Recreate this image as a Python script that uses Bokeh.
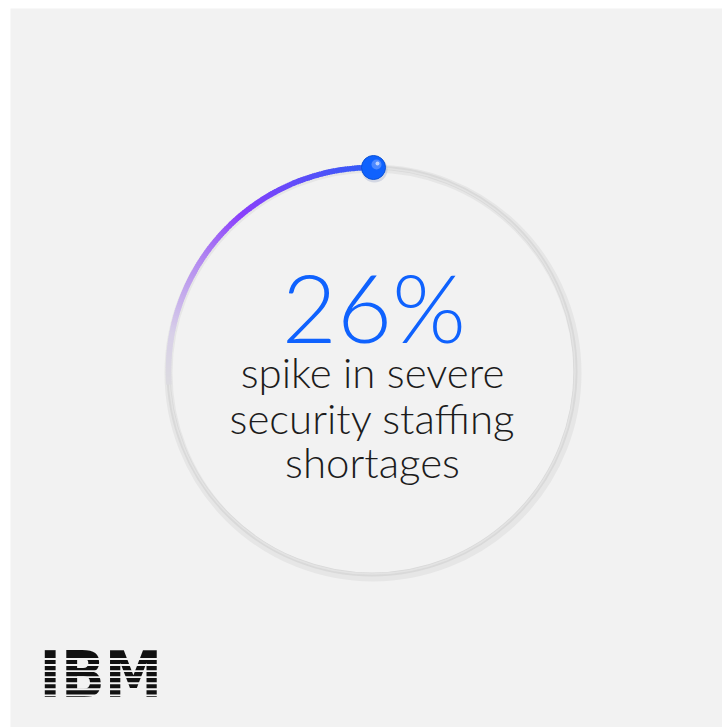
import numpy as np
from bokeh.plotting import figure
from bokeh.models import Range1d
from bokeh.core.properties import value
from bokeh.embed import file_html
from bokeh.resources import INLINE

# ---- data ----
percent = [26]
headline = ["26%"]
caption_lines = ["spike in severe", "security staffing", "shortages"]
logo_text = ["IBM"]

# ---- layout / style ----
W, H = 722, 727
ML, MT = 10, 8
FW, FH = W - ML, H - MT
BG = "#f2f2f2"
BASE_SHIFT = 0.4  # em, empirical baseline correction for svg text


def X(fx):
    return fx - ML


def Y(fy):
    return H - fy


cx, cy, R = X(371.5), Y(370.5), 203.5

p = figure(width=W, height=H, output_backend="svg", toolbar_location=None,
           x_range=Range1d(0, FW), y_range=Range1d(0, FH),
           x_axis_location=None, y_axis_location=None,
           min_border_left=ML, min_border_top=MT, min_border_right=0, min_border_bottom=0)
p.background_fill_color = BG
p.border_fill_color = "white"
p.outline_line_color = None
p.grid.visible = False

# ring (with soft shadow)
p.circle(x=[cx + 1], y=[cy - 2], radius=R + 1, fill_color=None, line_color="#e6e6e6", line_width=8)
p.circle(x=[cx], y=[cy], radius=R, fill_color=None, line_color="#d9d9d9", line_width=4)
p.circle(x=[cx], y=[cy], radius=R - 0.5, fill_color=None, line_color="#e3e3e3", line_width=1.5)

# gradient arc for the percentage
def hex2rgb(h):
    h = h.lstrip("#")
    return np.array([int(h[i:i + 2], 16) for i in (0, 2, 4)], dtype=float)

stops = [(0.0, "#2f5df7"), (0.2, "#5a4ef9"), (0.43, "#8a3ffc"),
         (0.62, "#b48cf0"), (0.85, "#d8d0e8"), (1.0, "#dcdbe0")]

def grad(t):
    for (t0, c0), (t1, c1) in zip(stops[:-1], stops[1:]):
        if t0 <= t <= t1:
            f = (t - t0) / (t1 - t0)
            c = hex2rgb(c0) * (1 - f) + hex2rgb(c1) * f
            return "#%02x%02x%02x" % tuple(int(round(v)) for v in c)
    return stops[-1][1]

sweep = 2 * np.pi * percent[0] / 100.0
n = 140
edges = np.linspace(0, 1, n + 1)
starts = np.pi / 2 + edges[:-1] * sweep
ends = np.pi / 2 + edges[1:] * sweep + 0.004
cols = [grad((a + b) / 2) for a, b in zip(edges[:-1], edges[1:])]
p.arc(x=[cx] * n, y=[cy] * n, radius=R, start_angle=starts, end_angle=ends,
      direction="anticlock", line_color=cols, line_width=5.5)

# knob at the arc start
kx, ky = cx + 1.5, cy + R
p.circle(x=[kx + 1], y=[ky - 2], radius=13, fill_color="#9aa6c8", fill_alpha=0.35, line_color=None)
p.circle(x=[kx], y=[ky], radius=12, fill_color="#0f62fe", line_color="#0b52d6", line_width=1)
p.circle(x=[kx + 3], y=[ky + 3], radius=5, fill_color="#5b94ff", fill_alpha=0.8, line_color=None)
p.circle(x=[kx + 4], y=[ky + 4], radius=2, fill_color="#c9dcff", fill_alpha=0.9, line_color=None)

# headline
hs = 95
p.text(x=[X(373.5)], y=[Y(343) + BASE_SHIFT * hs], text=headline,
       text_font=value("Lato Light, Lato"), text_font_size=f"{hs}px", text_color="#0f62fe",
       text_align="center", text_baseline="alphabetic")

# caption
cs = 42
p.text(x=[X(372)] * 3, y=[Y(b) + BASE_SHIFT * cs for b in (388, 434, 478)], text=caption_lines,
       text_font=value("Lato Light, Lato"), text_font_size=f"{cs}px", text_color="#1c1c1c",
       text_align="center", text_baseline="alphabetic")

# IBM logo: bold text cut by background stripes
ls = 64
lx, lbase = X(39), Y(700)
lcap = 0.729 * ls
p.text(x=[lx], y=[lbase + BASE_SHIFT * ls], text=logo_text,
       text_font=value("'Liberation Sans Narrow', 'DejaVu Sans Condensed', 'DejaVu Serif'"),
       text_font_style="bold", text_font_size=f"{ls}px", text_color="#111111",
       text_align="left", text_baseline="alphabetic")
nb, ratio = 8, 0.45
bar = lcap / (nb + (nb - 1) * ratio)
gap = bar * ratio
gy = [lbase + (i + 1) * bar + i * gap + gap / 2 for i in range(nb - 1)]
p.rect(x=[lx + 80] * len(gy), y=gy, width=190, height=gap, fill_color=BG, line_color=None)

open("out.html", "w").write(file_html(p, INLINE))
